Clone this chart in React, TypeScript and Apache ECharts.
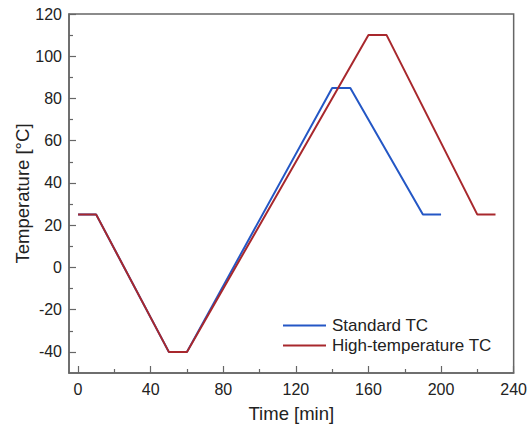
import React, { useEffect, useRef } from "react";
import * as echarts from "echarts";

const standardTime = [0, 10, 50, 60, 140, 150, 190, 200];
const standardTemp = [25, 25, -40, -40, 85, 85, 25, 25];
const highTime = [0, 10, 50, 60, 160, 170, 220, 230];
const highTemp = [25, 25, -40, -40, 110, 110, 25, 25];
const xMajorTicks = [0, 40, 80, 120, 160, 200, 240];
const xMinorTicks = [20, 60, 100, 140, 180, 220];
const yMajorTicks = [-40, -20, 0, 20, 40, 60, 80, 100, 120];
const yMinorTicks = [-30, -10, 10, 30, 50, 70, 90, 110];

const FONT = "Liberation Sans, Arial, sans-serif";
const AXIS_COLOR = "#666";

export default function App() {
  const ref = useRef<HTMLDivElement>(null);
  useEffect(() => {
    if (!ref.current) return;
    const chart = echarts.init(ref.current, null, { renderer: "svg" });
    const xMin = -5, xMax = 240, yMin = -50, yMax = 120;
    const baseX = {
      type: "value" as const,
      min: xMin,
      max: xMax,
      splitLine: { show: false },
    };
    const baseY = {
      type: "value" as const,
      min: yMin,
      max: yMax,
      splitLine: { show: false },
    };
    chart.setOption({
      animation: false,
      grid: {
        left: 69,
        right: 15,
        top: 14,
        bottom: 56,
        show: true,
        borderColor: AXIS_COLOR,
        borderWidth: 1.5,
        containLabel: false,
      },
      legend: {
        orient: "vertical",
        left: 278,
        top: 312,
        icon: "rect",
        itemWidth: 43,
        itemHeight: 2,
        itemGap: 3,
        textStyle: { fontFamily: FONT, fontSize: 17, color: "#222", padding: [0, 0, 0, 1] },
        data: ["Standard TC", "High-temperature TC"],
      },
      xAxis: [
        {
          ...baseX,
          position: "bottom",
          name: "Time [min]",
          nameLocation: "middle",
          nameGap: 31,
          nameMoveOverlap: false,
          nameTextStyle: { fontFamily: FONT, fontSize: 18.5, color: "#222" },
          axisLine: { show: true, onZero: false, lineStyle: { color: AXIS_COLOR, width: 1.5 } },
          axisTick: {
            show: true,
            inside: true,
            length: 7,
            customValues: xMajorTicks,
            lineStyle: { color: AXIS_COLOR, width: 1.2 },
          },
          axisLabel: {
            customValues: xMajorTicks,
            margin: 8,
            fontFamily: FONT,
            fontSize: 16,
            color: "#222",
          },
        },
        {
          ...baseX,
          position: "bottom",
          axisLine: { show: false, onZero: false },
          axisLabel: { show: false },
          axisTick: {
            show: true,
            inside: true,
            length: 4,
            customValues: xMinorTicks,
            lineStyle: { color: AXIS_COLOR, width: 1.2 },
          },
        },
      ],
      yAxis: [
        {
          ...baseY,
          position: "left",
          name: "Temperature [°C]",
          nameLocation: "middle",
          nameGap: 37,
          nameMoveOverlap: false,
          nameTextStyle: { fontFamily: FONT, fontSize: 18.5, color: "#222" },
          axisLine: { show: true, onZero: false, lineStyle: { color: AXIS_COLOR, width: 1.5 } },
          axisTick: {
            show: true,
            inside: true,
            length: 7,
            customValues: yMajorTicks,
            lineStyle: { color: AXIS_COLOR, width: 1.2 },
          },
          axisLabel: {
            customValues: yMajorTicks,
            margin: 7,
            fontFamily: FONT,
            fontSize: 16,
            color: "#222",
          },
        },
        {
          ...baseY,
          position: "left",
          axisLine: { show: false, onZero: false },
          axisLabel: { show: false },
          axisTick: {
            show: true,
            inside: true,
            length: 4,
            customValues: yMinorTicks,
            lineStyle: { color: AXIS_COLOR, width: 1.2 },
          },
        },
      ],
      series: [
        {
          name: "Standard TC",
          type: "line",
          xAxisIndex: 0,
          yAxisIndex: 0,
          symbol: "none",
          clip: false,
          color: "#2457c5",
          lineStyle: { width: 2, color: "#2457c5" },
          data: standardTime.map((t, i) => [t, standardTemp[i]]),
        },
        {
          name: "High-temperature TC",
          type: "line",
          xAxisIndex: 0,
          yAxisIndex: 0,
          symbol: "none",
          clip: false,
          color: "#a8282d",
          lineStyle: { width: 2, color: "#a8282d" },
          data: highTime.map((t, i) => [t, highTemp[i]]),
        },
      ],
    });
    return () => chart.dispose();
  }, []);
  return (
    <div
      ref={ref}
      style={{ position: "fixed", left: 0, top: 0, width: 530, height: 429, background: "#fff" }}
    />
  );
}
